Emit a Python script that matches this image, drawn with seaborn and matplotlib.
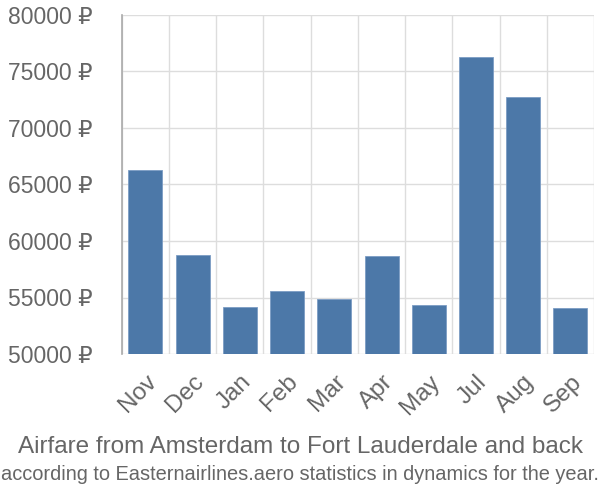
import numpy as np
import matplotlib
matplotlib.use('Agg')
import matplotlib.pyplot as plt
import seaborn as sns
import pandas as pd
from matplotlib.ticker import FixedLocator, FuncFormatter

months = ['Nov', 'Dec', 'Jan', 'Feb', 'Mar', 'Apr', 'May', 'Jul', 'Aug', 'Sep']
prices = [66300, 58800, 54200, 55600, 54850, 58700, 54300, 76250, 72700, 54100]

sns.set_style('white')
plt.rcParams['font.family'] = ['Liberation Sans', 'DejaVu Sans']

df = pd.DataFrame({'month': months, 'price': prices})

fig = plt.figure(figsize=(6, 5), dpi=100)
ax = fig.add_axes([0.203, 0.292, 0.787, 0.678])

sns.barplot(data=df, x='month', y='price', color='#4c78a8', saturation=1,
            width=0.72, edgecolor='#7c9cc4', linewidth=0.6, ax=ax, zorder=3)

ax.set_ylim(50000, 80000)
ax.set_xlim(-0.5, len(months) - 0.5)
ax.yaxis.set_major_locator(FixedLocator(np.arange(50000, 80001, 5000)))
ax.yaxis.set_major_formatter(FuncFormatter(lambda v, p: f'{int(v)} ₽'))

ax.set_xticks(np.arange(len(months)))
ax.set_xticklabels(months, rotation=45, ha='right', rotation_mode='anchor')
ax.set_xticks(np.arange(len(months) + 1) - 0.5, minor=True)
ax.tick_params(axis='x', which='major', length=0, pad=12, labelsize=17.5,
               labelcolor='#666666')
ax.tick_params(axis='x', which='minor', length=14, color='#dddddd', width=1)
ax.tick_params(axis='y', length=20, color='#dddddd', width=1, pad=1,
               labelsize=16.5, labelcolor='#666666')

ax.grid(True, axis='y', color='#dddddd', linewidth=1, zorder=0)
ax.grid(True, axis='x', which='minor', color='#dddddd', linewidth=1, zorder=0)
ax.set_axisbelow(True)

for s in ['top', 'right', 'bottom']:
    ax.spines[s].set_visible(False)
ax.spines['left'].set_color('#aaaaaa')
ax.spines['left'].set_linewidth(1.2)

ax.set_xlabel('')
ax.set_ylabel('')

fig.text(0.5, 0.106, 'Airfare from Amsterdam to Fort Lauderdale and back',
         ha='center', va='center', fontsize=17.5, color='#666666')
fig.text(0.5, 0.05, 'according to Easternairlines.aero statistics in dynamics for the year.',
         ha='center', va='center', fontsize=14.4, color='#666666')

fig.savefig('out.png', dpi=100)
